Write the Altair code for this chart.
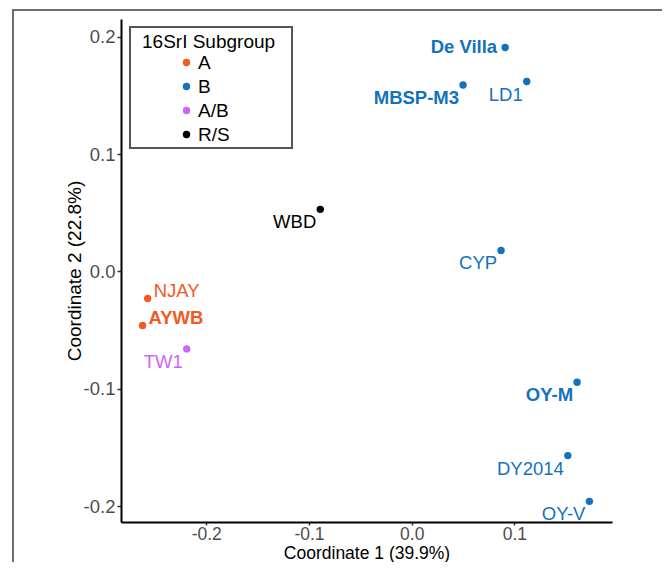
import altair as alt
import pandas as pd

names = ["De Villa", "LD1", "MBSP-M3", "WBD", "CYP", "NJAY", "AYWB", "TW1", "OY-M", "DY2014", "OY-V"]
coord1 = [0.091, 0.112, 0.050, -0.089, 0.087, -0.257, -0.262, -0.219, 0.161, 0.152, 0.173]
coord2 = [0.191, 0.162, 0.159, 0.053, 0.018, -0.023, -0.046, -0.066, -0.0945, -0.157, -0.196]
subgroup = ["B", "B", "B", "R/S", "B", "A", "A", "A/B", "B", "B", "B"]
bold = [True, False, True, False, False, False, True, False, True, False, False]
side = ["left", "below-left", "below-left", "below-left", "below-left", "above-right",
        "above-right", "below-left", "below-left", "below-left", "below-left"]

groups = ["A", "B", "A/B", "R/S"]
colors = ["#F25A22", "#1272BE", "#CC66F5", "#000000"]

df = pd.DataFrame({"name": names, "c1": coord1, "c2": coord2, "grp": subgroup,
                   "bold": bold, "side": side})

FONT = "Liberation Sans"
W, H = 491, 503
MINUS_FIX = "replace(datum.label, '\u2212', '-')"

xenc = alt.X("c1:Q", title="Coordinate 1 (39.9%)",
             scale=alt.Scale(domain=[-0.283, 0.195], nice=False, zero=False),
             axis=alt.Axis(values=[-0.2, -0.1, 0.0, 0.1], format=".1f",
                           labelExpr=MINUS_FIX, titlePadding=1.5, labelPadding=0,
                           tickSize=3, labelFontSize=17.5, titleFontSize=17.5))
yenc = alt.Y("c2:Q", title="Coordinate 2 (22.8%)",
             scale=alt.Scale(domain=[-0.2136, 0.2153], nice=False, zero=False),
             axis=alt.Axis(values=[-0.2, -0.1, 0.0, 0.1, 0.2], format=".1f",
                           labelExpr=MINUS_FIX, titlePadding=-1, labelPadding=2,
                           labelFontSize=18.5, titleFontSize=19))
cscale = alt.Scale(domain=groups, range=colors)

points = alt.Chart(df).mark_circle(size=55, opacity=1).encode(
    x=xenc, y=yenc,
    color=alt.Color("grp:N", scale=cscale, sort=groups, title="16SrI Subgroup",
                    legend=alt.Legend(orient="none", legendX=17, legendY=10,
                                      padding=4,
                                      titleFontSize=19, titleFontWeight="normal",
                                      titleColor="black", titleFont=FONT,
                                      labelFontSize=19, labelColor="black", labelFont=FONT,
                                      symbolSize=55, symbolType="circle",
                                      symbolOffset=35, labelOffset=2,
                                      rowPadding=4, titlePadding=1)),
)

side_style = {
    "left": dict(align="right", dx=-8, dy=0),
    "below-left": dict(align="right", dx=-4, dy=13),
    "above-right": dict(align="left", dx=6, dy=-7),
}

text_layers = []
for s, st in side_style.items():
    for b in (True, False):
        cond = f"datum.side == '{s}' && datum.bold == {'true' if b else 'false'}"
        t = alt.Chart(df).transform_filter(cond).mark_text(
            font=FONT, fontSize=18.5, fontWeight="bold" if b else "normal",
            baseline="middle", **st
        ).encode(x="c1:Q", y="c2:Q", text="name:N",
                 color=alt.Color("grp:N", scale=cscale, legend=None))
        text_layers.append(t)

one = pd.DataFrame({"a": [0]})
frame = alt.Chart(one).mark_rect(
    fill=None, stroke="#6E6E6E", strokeWidth=2
).encode(x=alt.value(-108), x2=alt.value(548), y=alt.value(-9), y2=alt.value(620))

legend_box = alt.Chart(one).mark_rect(
    fill="white", stroke="#555555", strokeWidth=2
).encode(x=alt.value(9), x2=alt.value(171), y=alt.value(8), y2=alt.value(129))

chart = alt.layer(frame, legend_box, points, *text_layers).properties(
    width=W, height=H,
    autosize=alt.AutoSizeParams(type="none"),
    padding={"left": 113, "top": 11, "right": 50, "bottom": 40},
).configure_view(stroke=None).configure_axis(
    grid=False, domainColor="black", domainWidth=2,
    tickColor="#333333", tickWidth=1.5, tickSize=4,
    labelColor="#4D4D4D", labelFont=FONT,
    titleColor="black", titleFont=FONT, titleFontWeight="normal",
)

chart.save("out.html", embed_options={"renderer": "svg", "actions": False})
